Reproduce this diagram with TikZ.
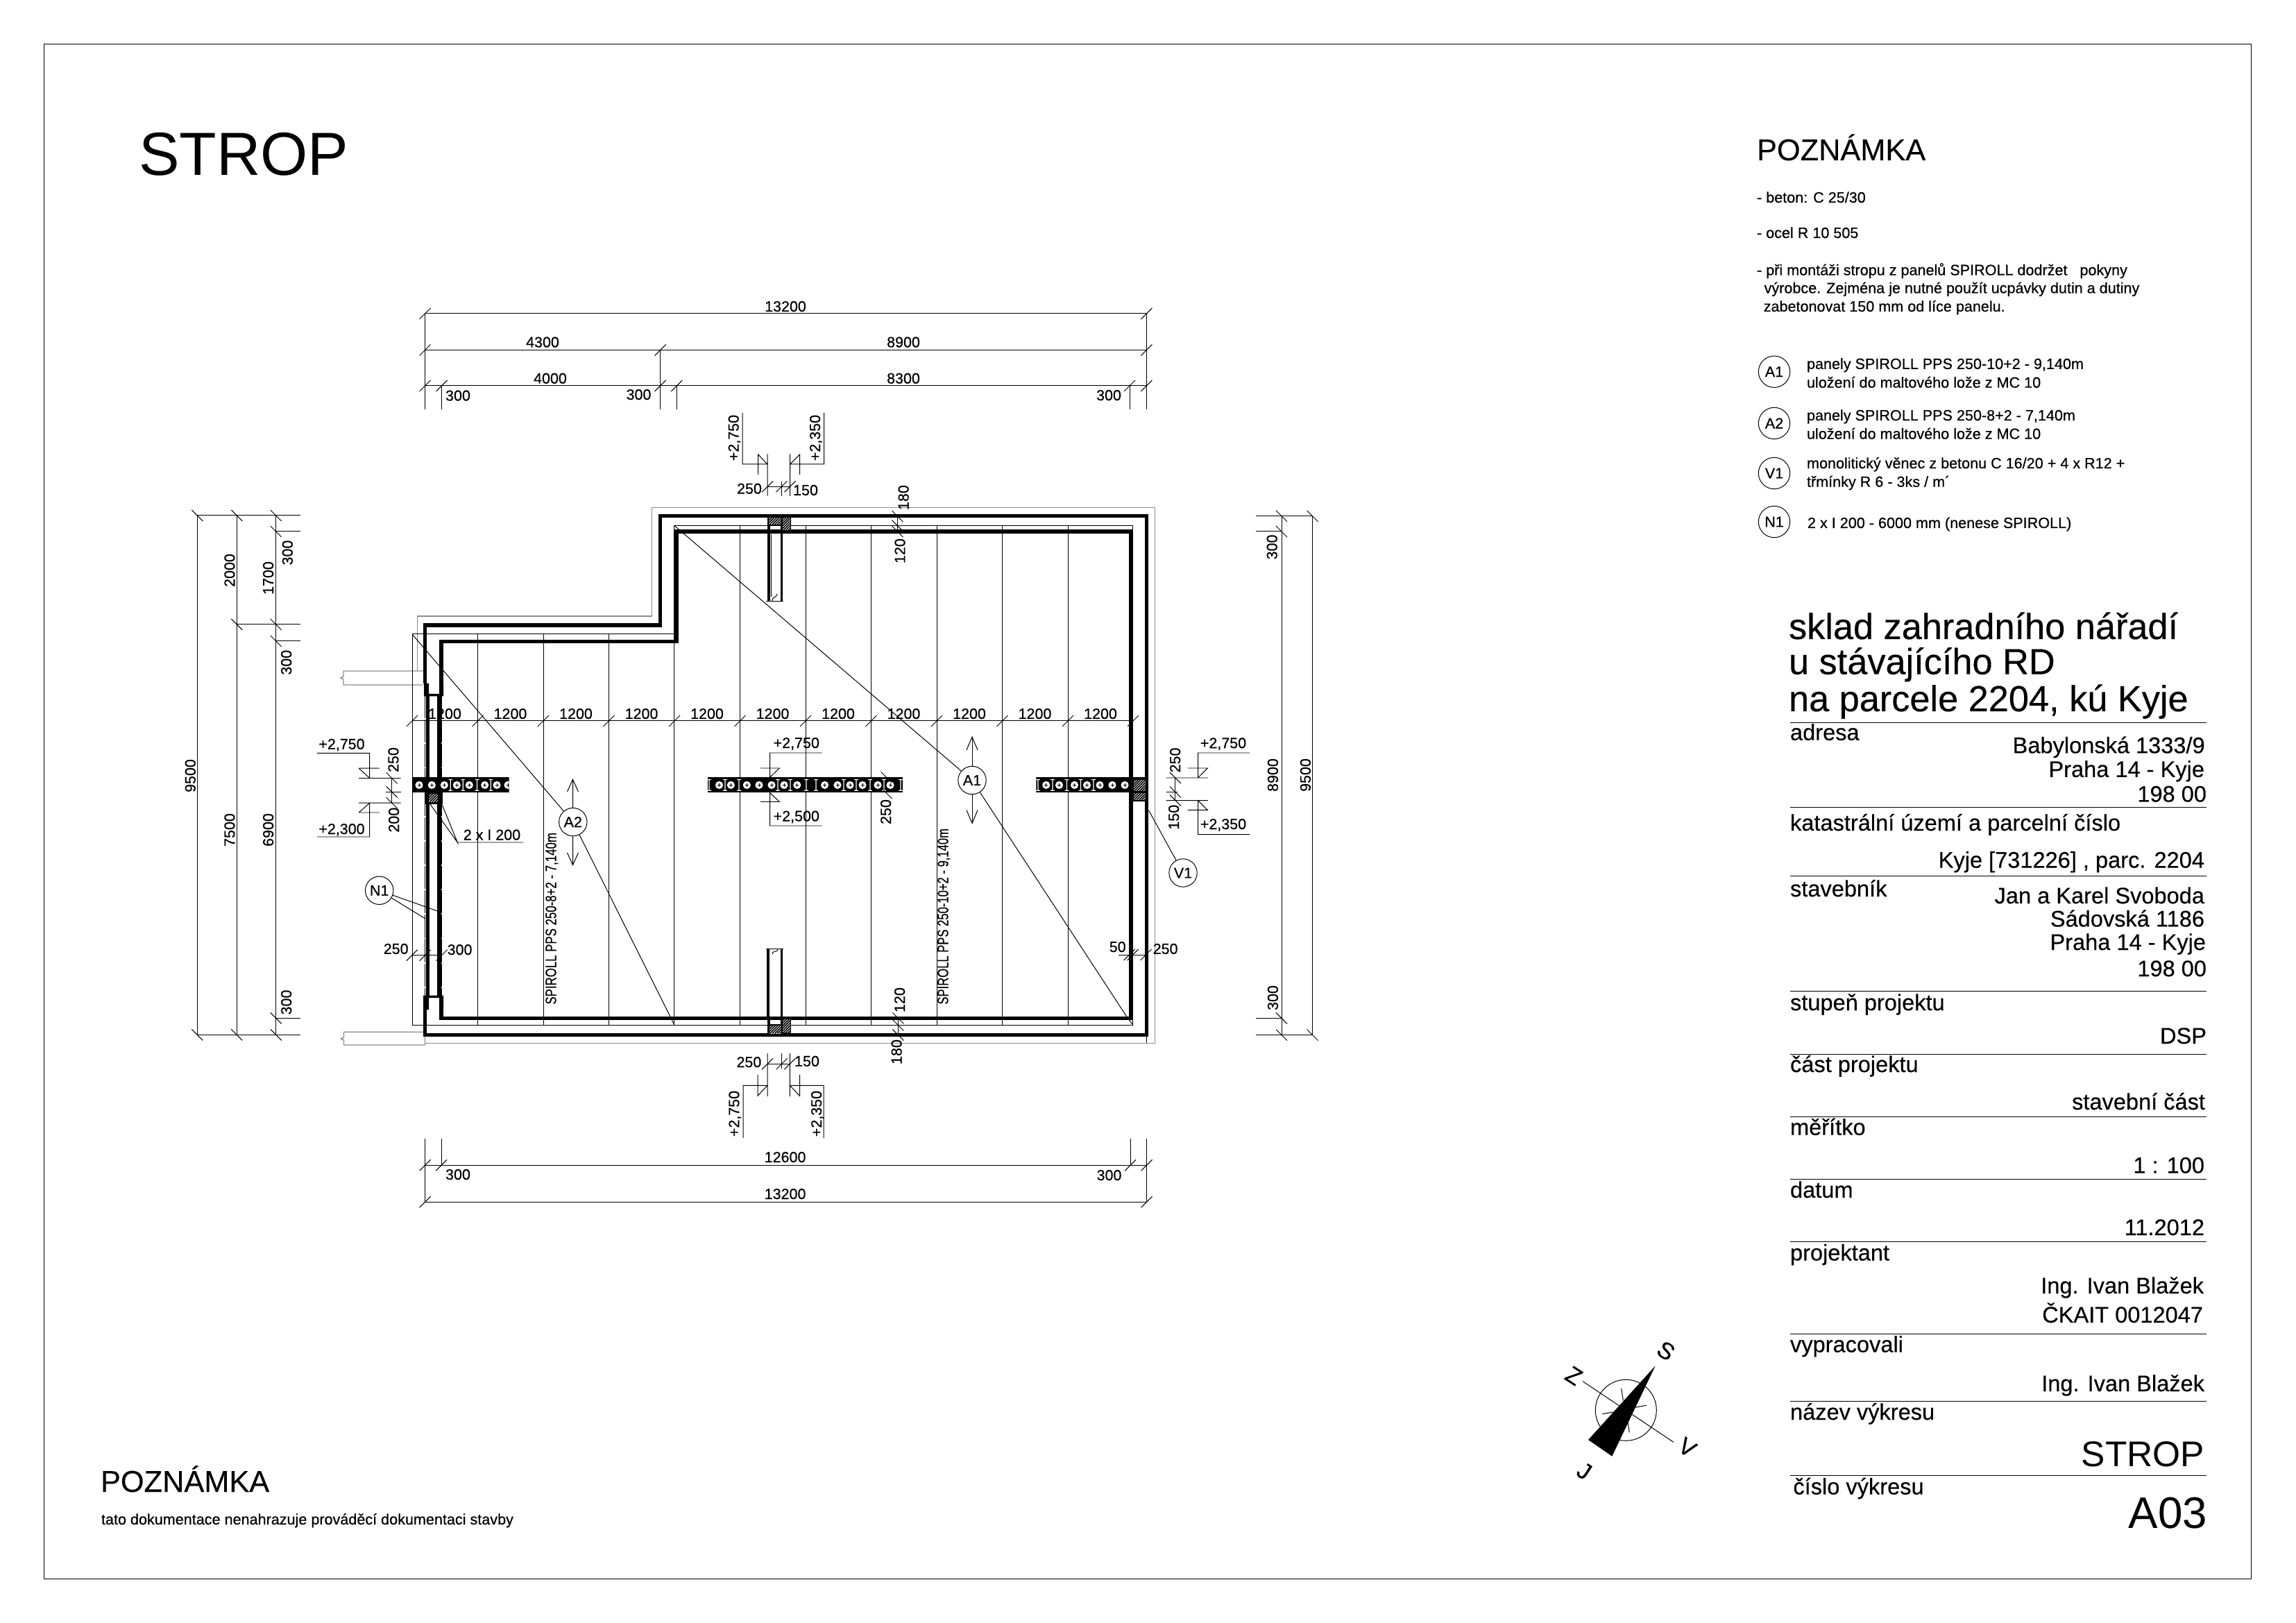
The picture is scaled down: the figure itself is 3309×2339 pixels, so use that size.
\documentclass[tikz,border=0pt]{standalone}
\usepackage{fontspec}
\usepackage{graphicx}
\setmainfont{Liberation Sans}
\newfontfamily\hvy[FakeBold=0.5]{Liberation Sans}
\newfontfamily\hvs[FakeBold=0.25]{Liberation Sans}
\newcount\lblno
\tikzset{
  hair/.style={line width=0.36pt,line cap=butt,black},
  greyl/.style={line width=0.5pt,black!45},
  wall/.style={line width=1.9pt,line join=miter,black},
  ribl/.style={line width=1.3pt,black},
  txt/.style={inner sep=0pt,outer sep=0pt,text=black},
  dimt/.style={txt,anchor=base,font=\hvy\fontsize{7.75pt}{8pt}\selectfont},
  dimr/.style={txt,anchor=base,rotate=90,font=\hvy\fontsize{7.75pt}{8pt}\selectfont},
  smallt/.style={txt,anchor=base west,font=\hvy\fontsize{7.8pt}{8pt}\selectfont},
  lblt/.style={txt,anchor=base west,font=\hvs\fontsize{11.77pt}{12pt}\selectfont},
  valt/.style={txt,anchor=base east,font=\hvs\fontsize{11.77pt}{12pt}\selectfont},
  bigt/.style={txt,anchor=base west,font=\hvs\fontsize{18.9pt}{19pt}\selectfont},
  headt/.style={txt,anchor=base west,font=\hvs\fontsize{15.66pt}{16pt}\selectfont},
  tagc/.style={circle,draw,line width=0.36pt,minimum size=14.6pt,inner sep=0pt,fill=white,font=\hvy\fontsize{7.8pt}{8pt}\selectfont},
  compt/.style={txt,rotate=-33,font=\hvy\fontsize{12.2pt}{13pt}\selectfont},
}
\newcommand{\Dh}[3]{\global\advance\lblno by 1 \node[dimt] (n\the\lblno) at (#1,#2) {#3};}
\newcommand{\Dv}[3]{\global\advance\lblno by 1 \node[dimr] (n\the\lblno) at (#1,#2) {#3};}
\newcommand{\Lb}[3]{\global\advance\lblno by 1 \node[lblt] (n\the\lblno) at (#1,#2) {#3};}
\newcommand{\Vl}[3]{\global\advance\lblno by 1 \node[valt] (n\the\lblno) at (#1,#2) {#3};}
\newcommand{\Sm}[3]{\global\advance\lblno by 1 \node[smallt] (n\the\lblno) at (#1,#2) {#3};}
\newcommand{\tickh}[2]{\draw[hair] ({#1-8},{#2+8}) -- ({#1+8},{#2-8});}
\newcommand{\tickv}[2]{\draw[hair] ({#1-8},{#2-8}) -- ({#1+8},{#2+8});}
\newcommand{\hatchbox}[4]{\begin{scope}
  \clip (#1,#2) rectangle (#3,#4);
  \fill[white] (#1,#2) rectangle (#3,#4);
  \foreach \hh in {0,3.6,...,70}{\draw[line width=0.55pt,black] ({#1+\hh-35},#4) -- ({#1+\hh-35+28},{#4-28});}
\end{scope}}
\newcommand{\hollow}[1]{\fill[white] (#1,1131.4) circle (5.6);
  \draw[line width=0.3pt] ({#1-2.5},1131.4) -- ({#1+2.5},1131.4) ({#1},1128.9) -- ({#1},1133.9);}
\newcommand{\webi}[1]{\fill[white] ({#1-0.6},1124) rectangle ({#1+0.6},1139)
   ({#1-2.8},1123) rectangle ({#1+2.8},1124.2) ({#1-2.8},1138.6) rectangle ({#1+2.8},1139.8);}
\begin{document}
\begin{tikzpicture}[x=0.127mm,y=-0.127mm]
\useasboundingbox (0,0) rectangle (3309,2339);
\fill[white] (0,0) rectangle (3309,2339);
% sheet frame
\draw[line width=0.4pt,black] (63.5,63.5) rectangle (3244.3,2275.3);
% grey outlines
\draw[greyl] (612.5,1491) -- (612.5,1506) -- (495.5,1506) -- (495.5,1499) -- (491.5,1497) -- (495.5,1495) -- (495.5,1487.3) -- (612.5,1487.3);
\draw[greyl] (612.5,1503.4) -- (1664.5,1503.4) -- (1664.5,731.7) -- (939.6,731.7) -- (939.6,888) -- (601.6,888) -- (601.6,967);
\draw[greyl] (610,967) -- (495,967) -- (495,975) -- (491,977) -- (495,979) -- (495,987) -- (610,987);
\draw[hair] (1652.4,1491) -- (1652.4,1503);
% panels
\draw[hair] (594,914) -- (971.5,914) -- (971.5,757.6) -- (1632.7,757.6) -- (1632.7,1477.4) -- (594,1477.4) -- cycle;
\foreach \xx in {688.5,783,877.5}{\draw[hair] (\xx,914) -- (\xx,1477.4);}
\foreach \xx in {1066.5,1161,1255.5,1350,1444.5,1539}{\draw[hair] (\xx,757.6) -- (\xx,1477.4);}
\draw[hair] (971.5,914) -- (971.5,1477.4);
% tags
\node[tagc] (A2) at (825.8,1184.6) {A2};
\node[tagc] (A1) at (1401,1124.5) {A1};
\node[tagc] (V1) at (1705,1258) {V1};
\node[tagc] (N1) at (546.7,1283.3) {N1};
% walls
\draw[wall] (612.5,985) -- (612.5,901) -- (951.7,901) -- (951.7,743.8) -- (1652.4,743.8) -- (1652.4,1491.5) -- (612.5,1491.5) -- (612.5,1436);
\draw[wall] (636,985) -- (636,924.5) -- (975,924.5) -- (975,766) -- (1629.5,766) -- (1629.5,1467.4) -- (636,1467.4) -- (636,1436);
% beam pieces at left wall
\fill (611,985) rectangle (618,1003.5) (633,985) rectangle (639,1003.5) (611,1000) rectangle (639,1003.5);
\fill (610,1434.5) rectangle (639,1438) (610,1434.5) rectangle (618,1455) (633,1434.5) rectangle (639,1455);
\draw[line width=1.9pt] (616.3,1002) -- (616.3,1436) (633,1002) -- (633,1436);
\draw[hair,dash pattern=on 12pt off 0.7pt] (612.7,1002) -- (612.7,1436) (636.3,1002) -- (636.3,1436);
% ribs
\draw[ribl] (1108,766) -- (1108,866.5) (1126.4,766) -- (1126.4,866.5);
\draw[hair] (1104,866.5) -- (1129,866.5);
\draw[hair] (1113,866) .. controls (1114,858) and (1117,864) .. (1120,856);
\draw[hair] (1111.5,770) -- (1111.5,860);
\draw[ribl] (1107,1367) -- (1107,1467) (1126.6,1367) -- (1126.6,1467);
\draw[hair] (1104,1367) -- (1129,1367);
\draw[hair] (1113,1375) .. controls (1115,1368) and (1120,1374) .. (1121,1368);
% hatched blocks
\fill (1106,744) rectangle (1140,766);
\hatchbox{1108.4}{746}{1126}{756}
\hatchbox{1128}{746}{1139}{764}
\fill[white] (1109.5,758) rectangle (1125,763);
\fill (1106,1467) rectangle (1140,1491);
\hatchbox{1108.5}{1478}{1126}{1489.5}
\hatchbox{1128}{1468.5}{1139}{1488}
\fill[white] (1109.5,1469.5) rectangle (1125,1476);
% precast panel sections
\begin{scope}
\clip (593.5,1120.3) rectangle (733.5,1142.5);
\fill (593.5,1120.3) rectangle (733.5,1142.5);
\foreach \xx in {604,622.3,640.3,658.3,676.3,698.7,716,732}{\hollow{\xx}}
\foreach \xx in {649.3,667.3,687.5,707.3}{\webi{\xx}}
\end{scope}
\begin{scope}
\clip (1020,1120.3) rectangle (1301,1142.5);
\fill (1020,1120.3) rectangle (1301,1142.5);
\foreach \xx in {1036.5,1053.3,1076.3,1094,1112,1130,1148.8,1188.6,1207,1225,1243,1265,1283}{\hollow{\xx}}
\foreach \xx in {1022,1045,1065,1121,1139,1162,1176,1216,1234,1254,1274,1298}{\webi{\xx}}
\end{scope}
\begin{scope}
\clip (1493.4,1120.3) rectangle (1629,1142.5);
\fill (1493.4,1120.3) rectangle (1629,1142.5);
\foreach \xx in {1507.7,1526.5,1548.5,1566.5,1585,1603,1621}{\hollow{\xx}}
\foreach \xx in {1496,1517,1537.5,1557.5,1576}{\webi{\xx}}
\end{scope}
\fill (611.5,1142) rectangle (637.5,1158.6);
\hatchbox{618}{1144}{631}{1156}
\fill (1628,1120) rectangle (1651.5,1154.7);
\hatchbox{1633.5}{1124}{1650.5}{1140.5}
\hatchbox{1633.5}{1143}{1650.5}{1153}
% leaders
\coordinate (a2s) at (594,914); \coordinate (a2e) at (972,1477.4);
\coordinate (a1s) at (972,757.6); \coordinate (a1m) at (1623.5,1464.7); \coordinate (a1e) at (1632.7,1477);
\coordinate (v1s) at (1655.6,1168);
\coordinate (n1a) at (630,1312.8); \coordinate (n1b) at (613,1324);
\draw[hair] (a2s) -- (A2); \draw[hair] (A2) -- (a2e);
\draw[hair] (a1s) -- (A1); \draw[hair] (A1) -- (a1m) -- (a1e);
\draw[hair] (v1s) -- (V1);
\draw[hair] (N1) -- (n1a); \draw[hair] (N1) -- (n1b);
% panel direction arrows
\coordinate (a2t) at (825.5,1123.4); \coordinate (a2b) at (825.5,1246.6);
\coordinate (a1t) at (1401,1062); \coordinate (a1b) at (1401,1186.5);
\draw[hair] (A2) -- (a2t); \draw[hair] (A2) -- (a2b); \draw[hair] (A1) -- (a1t); \draw[hair] (A1) -- (a1b);
\draw[hair] (817.5,1141) -- (a2t) -- (833.5,1141) (817.5,1229) -- (a2b) -- (833.5,1229);
\draw[hair] (1393,1081) -- (a1t) -- (1409,1081) (1393,1167.5) -- (a1b) -- (1409,1167.5);
% SPIROLL labels
\node[txt,rotate=90,anchor=base west,font=\hvy\fontsize{7.9pt}{8pt}\selectfont] (spa2) at (801.5,1447.5) {\scalebox{0.77}[1]{SPIROLL PPS 250-8+2 - 7,140m}};
\node[txt,rotate=90,anchor=base west,font=\hvy\fontsize{7.9pt}{8pt}\selectfont] (spa1) at (1366.5,1447.5) {\scalebox{0.76}[1]{SPIROLL PPS 250-10+2 - 9,140m}};
% 2 x I 200
\coordinate (ib) at (659.3,1214); \coordinate (ie) at (754.4,1214);
\coordinate (il) at (620,1159); \coordinate (ir) at (637.3,1160);
\draw[hair] (il) -- (ib) -- (ir) (ib) -- (ie);
\Dh{709}{1210.5}{2 x I 200}
% top dimensions
\draw[hair] (612.5,452) -- (1652.4,452) (612.5,504.5) -- (1652.4,504.5) (612.5,556) -- (1652.4,556);
\draw[hair] (612.5,452) -- (612.5,590) (1652.4,452) -- (1652.4,590) (951.7,504.5) -- (951.7,590) (636.7,556) -- (636.7,590) (975.3,556) -- (975.3,590) (1628,556) -- (1628,590);
\foreach \xx in {612.5,1652.4}{\tickh{\xx}{452}}
\foreach \xx in {612.5,951.7,1652.4}{\tickh{\xx}{504.5}}
\foreach \xx in {612.5,636.7,951.7,975.3,1628,1652.4}{\tickh{\xx}{556}}
\Dh{1132}{449}{13200} \Dh{782}{500.5}{4300} \Dh{1302}{500.5}{8900}
\Dh{793}{552.7}{4000} \Dh{1302}{552.7}{8300}
\Dh{660}{577.5}{300} \Dh{920.5}{576}{300} \Dh{1598}{577}{300}
% bottom dimensions
\draw[hair] (612.6,1679.3) -- (1652.6,1679.3) (612.6,1732.3) -- (1652.6,1732.3);
\draw[hair] (612.6,1641) -- (612.6,1732.3) (1652.6,1641) -- (1652.6,1732.3) (636,1641) -- (636,1679.3) (1629,1641) -- (1629,1679.3);
\foreach \xx in {612.6,636,1629,1652.6}{\tickh{\xx}{1679.3}}
\foreach \xx in {612.6,1652.6}{\tickh{\xx}{1732.3}}
\Dh{1131.6}{1675}{12600} \Dh{1131.6}{1728}{13200} \Dh{660}{1700}{300} \Dh{1598.5}{1701}{300}
% left dimensions
\draw[hair] (284.3,743) -- (284.3,1491.4) (341.3,743) -- (341.3,1491.4) (397.7,743) -- (397.7,1491.4);
\draw[hair] (284.3,743) -- (433,743) (397.7,766) -- (433,766) (341.3,900) -- (433,900) (397.7,924) -- (433,924) (397.7,1467.4) -- (433,1467.4) (284.3,1491.4) -- (433,1491.4);
\foreach \xx in {284.3,341.3,397.7}{\tickv{\xx}{743}\tickv{\xx}{1491.4}}
\tickv{341.3}{900}\tickv{397.7}{766}\tickv{397.7}{900}\tickv{397.7}{924}\tickv{397.7}{1467.4}
\Dv{281.7}{1118}{9500} \Dv{338.3}{822}{2000} \Dv{338.3}{1196}{7500} \Dv{394}{833}{1700} \Dv{394}{1196}{6900}
\Dv{421.7}{796.5}{300} \Dv{420}{954.7}{300} \Dv{420}{1444.5}{300}
% right dimensions
\draw[hair] (1847,743.8) -- (1847,1491.5) (1891.5,743.8) -- (1891.5,1491.5);
\draw[hair] (1810,743.8) -- (1891.5,743.8) (1810,766) -- (1847,766) (1810,1467.4) -- (1847,1467.4) (1810,1491.5) -- (1891.5,1491.5);
\tickv{1847}{743.8}\tickv{1847}{766}\tickv{1847}{1467.4}\tickv{1847}{1491.5}\tickv{1891.5}{743.8}\tickv{1891.5}{1491.5}
\Dv{1840.6}{788.4}{300} \Dv{1841.8}{1117}{8900} \Dv{1888.8}{1117}{9500} \Dv{1841.8}{1438}{300}
% 1200 grid dimension
\draw[hair] (594,1039) -- (1633,1039);
\foreach \xx in {594,688.5,783,877.5,972,1066.5,1161,1255.5,1350,1444.5,1539,1633}{\tickh{\xx}{1039}}
\foreach \xx in {641,735.5,830,924.5,1019,1113.5,1208,1302.5,1397,1491.5,1586}{\Dh{\xx}{1036}{1200}}
% small wall dimensions
\draw[hair] (593.7,1376.7) -- (636.5,1376.7) (1612,1376) -- (1651.5,1376);
\tickh{593.7}{1376.7}\tickh{612.6}{1376.7}\tickh{636.5}{1376.7}
\tickh{1627.6}{1376}\tickh{1632.6}{1376}\tickh{1651.5}{1376}
\Dh{570.7}{1374.8}{250} \Dh{662.6}{1376}{300} \Dh{1610.7}{1372}{50} \Dh{1679.6}{1374.8}{250}
% top/bottom wall thickness
\draw[hair] (1293.5,744) -- (1293.5,766) (1294.4,1467.4) -- (1294.4,1491.5);
\tickv{1293.5}{744}\tickv{1293.5}{757.6}\tickv{1293.5}{766}
\tickv{1294.4}{1467.4}\tickv{1294.4}{1477.4}\tickv{1294.4}{1491.5}
\Dv{1309.5}{717}{180} \Dv{1304.4}{794}{120} \Dv{1304}{1441}{120} \Dv{1299.5}{1516}{180}
% top level marks
\draw[hair] (1070,595) -- (1070,669) -- (1106,669) (1106,654.5) -- (1106,714.7) (1092.7,684) -- (1092.7,655) -- (1106,669);
\draw[hair] (1187.7,595) -- (1187.7,669) -- (1138.6,669) (1138.6,654.5) -- (1138.6,714.7) (1152.6,684) -- (1152.6,655) -- (1138.6,669);
\draw[hair] (1106,701.3) -- (1138.6,701.3) (1126.4,694) -- (1126.4,714.7);
\tickh{1106}{701.3}\tickh{1126.4}{701.3}\tickh{1138.6}{701.3}
\Dv{1064.6}{631}{+2,750} \Dv{1182}{631}{+2,350} \Dh{1080}{711.6}{250} \Dh{1161}{713.8}{150}
% bottom level marks
\draw[hair] (1071,1640) -- (1071,1564.3) -- (1106,1564.3) (1106,1518) -- (1106,1580) (1092,1549) -- (1092,1579.3) -- (1106,1564.3);
\draw[hair] (1187,1640) -- (1187,1564.3) -- (1138.3,1564.3) (1138.3,1518) -- (1138.3,1580) (1152.5,1549) -- (1152.5,1579.3) -- (1138.3,1564.3);
\draw[hair] (1106,1533.3) -- (1138.3,1533.3) (1126.7,1518) -- (1126.7,1540);
\tickh{1106}{1533.3}\tickh{1126.7}{1533.3}\tickh{1138.3}{1533.3}
\Dv{1065.3}{1605}{+2,750} \Dv{1184}{1605}{+2,350} \Dh{1079.4}{1538}{250} \Dh{1163}{1536.7}{150}
% left level marks
\draw[hair] (457,1085.3) -- (532.7,1085.3) -- (532.7,1121.5) (517,1121.5) -- (577.7,1121.5) (517.3,1107.2) -- (532.7,1121.5) (517.3,1107.2) -- (546.7,1107.2);
\draw[hair] (457,1206) -- (532.7,1206) -- (532.7,1157.2) (517,1157.2) -- (577.7,1157.2) (517.3,1171) -- (532.7,1157.2) (517.3,1171) -- (546.7,1171);
\draw[hair] (564.7,1121.5) -- (564.7,1157.2) (556,1141.4) -- (577.7,1141.4);
\tickv{564.7}{1121.5}\tickv{564.7}{1141.4}\tickv{564.7}{1157.2}
\Dh{492.5}{1079.7}{+2,750} \Dh{492.5}{1202}{+2,300} \Dv{574.3}{1095}{250} \Dv{575}{1181.7}{200}
% middle level marks
\draw[hair] (1184.5,1085) -- (1109.5,1085) -- (1109.5,1120.3) -- (1123.3,1107) -- (1096,1107);
\draw[hair] (1184.5,1190) -- (1109.5,1190) -- (1109.5,1142.5) -- (1123.3,1155.5) -- (1096,1155.5);
\Dh{1147.8}{1078}{+2,750} \Dh{1147.8}{1183.5}{+2,500}
\tickv{1277.5}{1120.3}\tickv{1277.5}{1143}
\Dv{1284}{1170}{250}
% right level marks
\draw[hair] (1801,1085) -- (1726.5,1085) -- (1726.5,1121) (1680.6,1121) -- (1740.8,1121) (1726.5,1121) -- (1740.3,1107) -- (1711.7,1107);
\draw[hair] (1801,1202.6) -- (1726.5,1202.6) -- (1726.5,1153.6) (1680.6,1153.6) -- (1740.8,1153.6) (1726.5,1153.6) -- (1740.3,1167.4) -- (1711.7,1167.4);
\draw[hair] (1693.9,1121) -- (1693.9,1153.6) (1680.6,1141.4) -- (1697,1141.4);
\tickv{1693.9}{1121}\tickv{1693.9}{1141.4}\tickv{1693.9}{1153.6}
\Dh{1763}{1078.2}{+2,750} \Dh{1763}{1195}{+2,350} \Dv{1701}{1095.4}{250} \Dv{1699}{1177.7}{150}
% titles and notes
\node[txt,anchor=base west,font=\fontsize{31.7pt}{32pt}\selectfont] (titl) at (200,253) {STROP};
\node[headt] (hd1) at (2532,231) {POZNÁMKA};
\node[headt] (hd2) at (145,2150) {POZNÁMKA};
\Sm{146}{2197}{tato dokumentace nenahrazuje prováděcí dokumentaci stavby}
\Sm{2532}{292}{- beton: C 25/30}
\Sm{2532}{343}{- ocel R 10 505}
\Sm{2532}{396.6}{- při montáži stropu z panelů SPIROLL dodržet\ \ \ pokyny}
\Sm{2542.6}{422.5}{výrobce. Zejména je nutné použít ucpávky dutin a dutiny}
\Sm{2541.7}{449}{zabetonovat 150 mm od líce panelu.}
% legend
\node[tagc,minimum size=16.4pt] (la1) at (2557,535.7) {A1};
\node[tagc,minimum size=16.4pt] (la2) at (2557,610) {A2};
\node[tagc,minimum size=16.4pt] (lv1) at (2557,682) {V1};
\node[tagc,minimum size=16.4pt] (ln1) at (2557,752) {N1};
\Sm{2604}{531.8}{panely SPIROLL PPS 250-10+2 - 9,140m}
\Sm{2604}{558.7}{uložení do maltového lože z MC 10}
\Sm{2604}{606}{panely SPIROLL PPS 250-8+2 - 7,140m}
\Sm{2604}{632.6}{uložení do maltového lože z MC 10}
\Sm{2604}{675}{monolitický věnec z betonu C 16/20 + 4 x R12 +}
\Sm{2604}{701.7}{třmínky R 6 - 3ks / m´}
\Sm{2605}{761}{2 x I 200 - 6000 mm (nenese SPIROLL)}
% title block
\node[bigt] (t1) at (2578,921) {sklad zahradního nářadí};
\node[bigt] (t2) at (2578,971.6) {u stávajícího RD};
\node[bigt] (t3) at (2578,1025) {na parcele 2204, kú Kyje};
\foreach \yy in {1042,1163.6,1262,1428,1519,1609,1699.6,1789,1922,2019.6,2126}{\draw[hair] (2580,\yy) -- (3180,\yy);}
\Lb{2580}{1066.7}{adresa}
\Vl{3177.7}{1085.4}{Babylonská 1333/9} \Vl{3177}{1119.8}{Praha 14 - Kyje} \Vl{3180}{1155.5}{198 00}
\Lb{2580}{1197}{katastrální území a parcelní číslo}
\Vl{3177}{1250.6}{Kyje [731226] , parc. 2204}
\Lb{2580}{1292}{stavebník}
\Vl{3177}{1302}{Jan a Karel Svoboda} \Vl{3177}{1335.4}{Sádovská 1186} \Vl{3179}{1369}{Praha 14 - Kyje} \Vl{3180}{1407}{198 00}
\Lb{2580}{1456}{stupeň projektu} \Vl{3180}{1504}{DSP}
\Lb{2580}{1545}{část projektu} \Vl{3178}{1599}{stavební část}
\Lb{2580}{1635.7}{měřítko} \Vl{3177}{1690.6}{1 : 100}
\Lb{2580}{1726}{datum} \Vl{3177}{1780}{11.2012}
\Lb{2580}{1816.5}{projektant} \Vl{3176}{1864}{Ing. Ivan Blažek} \Vl{3175}{1906}{ČKAIT 0012047}
\Lb{2580}{1948.7}{vypracovali} \Vl{3177}{2005}{Ing. Ivan Blažek}
\Lb{2580}{2046}{název výkresu}
\node[txt,anchor=base east,font=\fontsize{18.6pt}{19pt}\selectfont] (tstrop) at (3177,2113) {STROP};
\Lb{2584.4}{2153.6}{číslo výkresu}
\node[txt,anchor=base east,font=\fontsize{23pt}{24pt}\selectfont] (ta03) at (3181,2202.7) {A03};
% compass
\draw[hair] (2343.3,2032.3) circle (44);
\draw[hair] (2281,1990.7) -- (2411.7,2078.3);
\draw[hair] (2336.7,2001) -- (2339.3,2018.3) (2373,2025.3) -- (2356.7,2028.3) (2309.3,2037.7) -- (2325,2035) (2346,2050) -- (2348.3,2064.3);
\fill (2385.7,1968.3) -- (2289,2075) -- (2323.3,2098.7) -- cycle;
\node[compt] (cs) at (2401,1946.7) {S};
\node[compt] (cz) at (2268.3,1982.7) {Z};
\node[compt] (cv) at (2431.7,2086) {V};
\node[compt] (cj) at (2283.3,2120) {J};
\end{tikzpicture}
\end{document}
